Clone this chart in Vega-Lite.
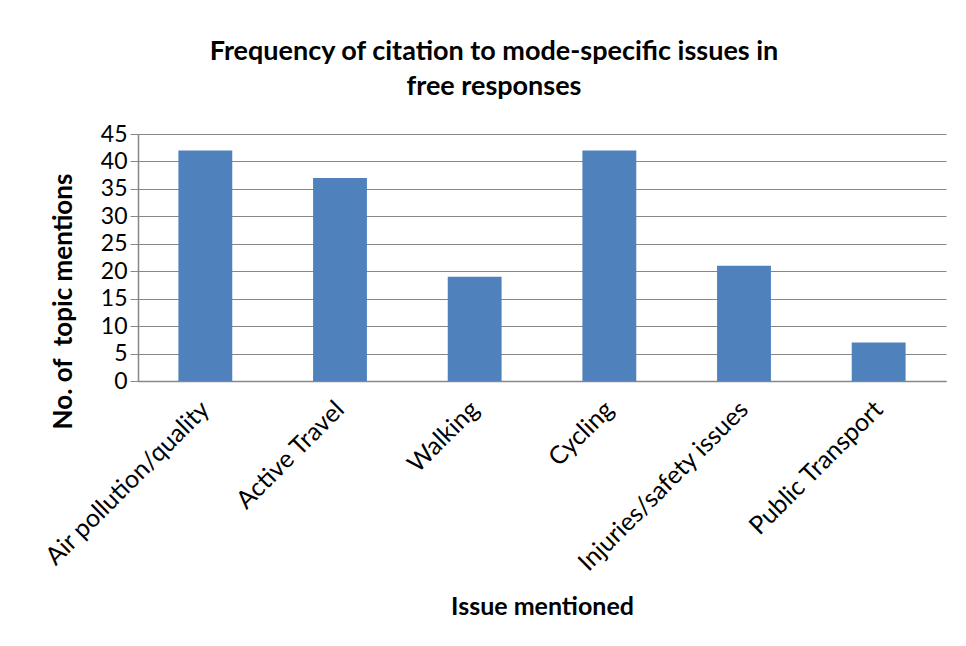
{
  "$schema": "https://vega.github.io/schema/vega-lite/v6.json",
  "width": 808,
  "height": 247,
  "autosize": "none",
  "padding": {"left": 138, "top": 134, "right": 20, "bottom": 265},
  "background": "white",
  "title": {
    "text": ["Frequency of citation to mode-specific issues in", "free responses"],
    "font": "Lato",
    "fontSize": 27,
    "fontWeight": "bold",
    "color": "#000000",
    "anchor": "middle",
    "dx": -48,
    "lineHeight": 35,
    "offset": 22
  },
  "data": {
    "values": [
      {"issue": "Air pollution/quality", "mentions": 42},
      {"issue": "Active Travel", "mentions": 37},
      {"issue": "Walking", "mentions": 19},
      {"issue": "Cycling", "mentions": 42},
      {"issue": "Injuries/safety issues", "mentions": 21},
      {"issue": "Public Transport", "mentions": 7}
    ]
  },
  "mark": {"type": "bar", "color": "#4F81BD"},
  "encoding": {
    "x": {
      "field": "issue",
      "type": "nominal",
      "sort": null,
      "scale": {"paddingInner": 0.6, "paddingOuter": 0.3},
      "axis": {
        "title": "Issue mentioned",
        "titleFont": "Lato",
        "titleFontSize": 25,
        "titleFontWeight": "bold",
        "titleColor": "#000000",
        "titleX": 404,
        "titleY": 225,
        "titleBaseline": "middle",
        "labelFont": "Lato",
        "labelFontSize": 25,
        "labelColor": "#000000",
        "labelAngle": -45,
        "labelAlign": "right",
        "labelBaseline": "middle",
        "labelPadding": 24,
        "labelOverlap": false,
        "labelLimit": 400,
        "ticks": false,
        "domainColor": "#878787",
        "domainWidth": 1.5,
        "grid": false
      }
    },
    "y": {
      "field": "mentions",
      "type": "quantitative",
      "scale": {"domain": [0, 45]},
      "axis": {
        "title": "No. of\u00a0 topic mentions",
        "titleFont": "Lato",
        "titleFontSize": 26,
        "titleFontWeight": "bold",
        "titleColor": "#000000",
        "titleAngle": 270,
        "titleX": -75,
        "titleY": 167,
        "titleAlign": "center",
        "titleBaseline": "middle",
        "values": [0, 5, 10, 15, 20, 25, 30, 35, 40, 45],
        "labelFont": "Lato",
        "labelFontSize": 23,
        "labelColor": "#000000",
        "labelPadding": 3,
        "tickSize": 8,
        "tickColor": "#878787",
        "domainColor": "#878787",
        "domainWidth": 1.5,
        "grid": true,
        "gridColor": "#878787",
        "gridWidth": 1
      }
    }
  },
  "config": {
    "view": {"stroke": null}
  }
}
